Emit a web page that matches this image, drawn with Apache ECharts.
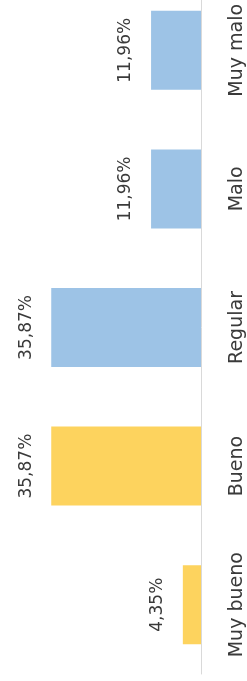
<!DOCTYPE html>
<html>
<head>
<meta charset="utf-8">
<script src="https://cdn.jsdelivr.net/npm/echarts@6/dist/echarts.min.js"></script>
<style>
  html, body { margin: 0; padding: 0; background: #fff; overflow: hidden; }
  /* chart is a bit taller and shifted up: the top band is cut off in the reference */
  #chart { width: 247px; height: 700px; margin-top: -19px; }
</style>
</head>
<body>
<div id="chart"></div>
<script>
// categories bottom -> top
var categories = ['Muy bueno', 'Bueno', 'Regular', 'Malo', 'Muy malo'];
var values = [4.35, 35.87, 35.87, 11.96, 11.96];
var barColors = ['#FDD35E', '#FDD35E', '#9DC3E6', '#9DC3E6', '#9DC3E6'];

var myChart = echarts.init(document.getElementById('chart'));

var option = {
  animation: false,
  grid: { left: 34, right: 41, top: 0, bottom: 7 },
  xAxis: {
    type: 'value',
    inverse: true,
    min: 0,
    max: 40,
    show: false
  },
  yAxis: {
    type: 'category',
    position: 'right',
    data: categories,
    axisLine: { lineStyle: { color: '#D9D9D9', width: 1 } },
    axisTick: { show: false },
    axisLabel: {
      rotate: 90,
      margin: 27,
      color: '#3A3A3A',
      fontSize: 19,
      fontFamily: 'DejaVu Sans'
    }
  },
  series: [
    {
      type: 'bar',
      barWidth: 79,
      data: values.map(function (v, i) {
        return { value: v, itemStyle: { color: barColors[i] } };
      }),
      label: {
        show: true,
        position: 'left',
        distance: 25,
        rotate: 90,
        align: 'center',
        verticalAlign: 'middle',
        color: '#3A3A3A',
        fontSize: 17,
        fontFamily: 'DejaVu Sans',
        formatter: function (p) {
          return p.value.toFixed(2).replace('.', ',') + '%';
        }
      }
    }
  ]
};

option && myChart.setOption(option);
</script>
</body>
</html>
